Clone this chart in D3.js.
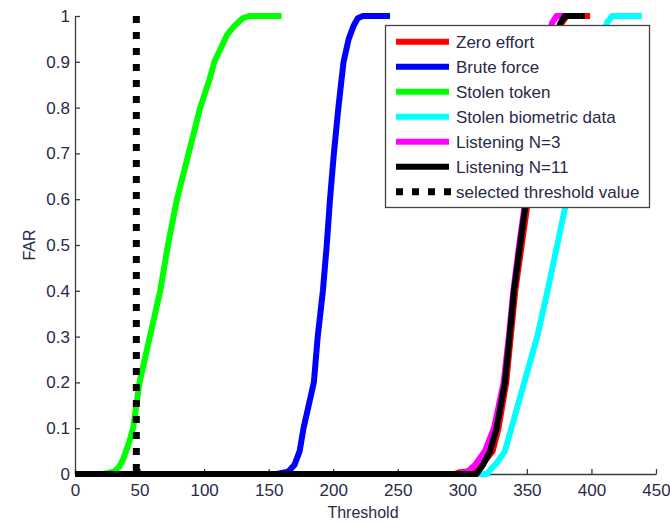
<!DOCTYPE html>
<html>
<head>
<meta charset="utf-8">
<script src="https://cdn.jsdelivr.net/npm/d3@7"></script>
<style>
  html, body { margin: 0; padding: 0; background: #fff; }
  svg { display: block; font-family: Arial, "Liberation Sans", sans-serif; }
</style>
</head>
<body>
<svg id="chart" width="670" height="523"></svg>
<script>
// ---------- data ----------
const seriesNames = ["Zero effort", "Brute force", "Stolen token", "Stolen biometric data", "Listening N=3", "Listening N=11"];
const seriesColors = ["#ff0000", "#0000ff", "#00ff00", "#00ffff", "#ff00ff", "#000000"];

const zeroEffortT   = [0, 294, 298, 305, 312, 318, 323.5, 328, 334, 337.5, 341, 346, 351, 357, 363, 369, 374, 377, 381, 399];
const zeroEffortFAR = [0, 0, 0.004, 0.006, 0.01, 0.03, 0.05, 0.1, 0.2, 0.3, 0.4, 0.5, 0.6, 0.7, 0.8, 0.9, 0.96, 0.985, 1, 1];

const bruteForceT   = [0, 156, 165, 170, 174, 177, 181, 185, 188, 192, 195, 197.5, 200.5, 204, 206, 208, 212, 216, 219, 223, 244];
const bruteForceFAR = [0, 0, 0.005, 0.02, 0.05, 0.1, 0.15, 0.2, 0.3, 0.4, 0.5, 0.6, 0.7, 0.8, 0.85, 0.9, 0.95, 0.98, 0.995, 1, 1];

const stolenTokenT   = [0, 22, 30, 34, 37, 42, 45, 50, 58, 66, 72, 79, 88, 97, 104, 108, 113, 118, 124, 130, 135, 160];
const stolenTokenFAR = [0, 0, 0.005, 0.015, 0.03, 0.07, 0.1, 0.2, 0.3, 0.4, 0.5, 0.6, 0.7, 0.8, 0.86, 0.9, 0.93, 0.96, 0.98, 0.995, 1, 1];

const stolenBioT   = [0, 319, 322, 327, 333, 338, 348, 358, 366, 373.5, 381, 389, 396, 403, 409, 412, 416, 439];
const stolenBioFAR = [0, 0, 0.01, 0.025, 0.05, 0.1, 0.2, 0.3, 0.4, 0.5, 0.6, 0.7, 0.8, 0.9, 0.96, 0.985, 1, 1];

const listen3T   = [0, 296, 304, 310, 317.5, 324.5, 332, 336, 339.5, 344, 349, 353, 358, 364, 367.5, 369.5, 373, 390];
const listen3FAR = [0, 0, 0.005, 0.02, 0.05, 0.1, 0.2, 0.3, 0.4, 0.5, 0.6, 0.7, 0.8, 0.9, 0.96, 0.985, 1, 1];

const listen11T   = [0, 311, 316, 321.5, 326.5, 333, 336.6, 340, 344.7, 349.5, 356, 362, 368, 373, 376, 379.5, 395];
const listen11FAR = [0, 0, 0.02, 0.05, 0.1, 0.2, 0.3, 0.4, 0.5, 0.6, 0.7, 0.8, 0.9, 0.96, 0.985, 1, 1];

const selectedThreshold = 47.5;
const thresholdLabel = "selected threshold value";

const xTickValues = [0, 50, 100, 150, 200, 250, 300, 350, 400, 450];
const yTickValues = [0, 0.1, 0.2, 0.3, 0.4, 0.5, 0.6, 0.7, 0.8, 0.9, 1];
const yTickLabels = ["0", "0.1", "0.2", "0.3", "0.4", "0.5", "0.6", "0.7", "0.8", "0.9", "1"];
const xTitle = "Threshold";
const yTitle = "FAR";

// ---------- build ----------
const seriesT = [zeroEffortT, bruteForceT, stolenTokenT, stolenBioT, listen3T, listen11T];
const seriesF = [zeroEffortFAR, bruteForceFAR, stolenTokenFAR, stolenBioFAR, listen3FAR, listen11FAR];
const series = seriesNames.map((name, i) => ({
  name, color: seriesColors[i],
  points: seriesT[i].map((t, j) => ({ t, f: seriesF[i][j] }))
}));

const svg = d3.select("#chart");
const x = d3.scaleLinear().domain([0, 450]).range([75, 656]);
const y = d3.scaleLinear().domain([0, 1]).range([474, 16]);

const textColor = "#2a2a48";
const axisColor = "#3c3c3c";

// axes
const xAxis = d3.axisBottom(x).tickValues(xTickValues).tickFormat(d3.format("d"))
  .tickSizeInner(-5).tickSizeOuter(0).tickPadding(10);
const yAxis = d3.axisLeft(y).tickValues(yTickValues).tickFormat((d, i) => yTickLabels[i])
  .tickSizeInner(-5).tickSizeOuter(0).tickPadding(5);

const gx = svg.append("g").attr("transform", `translate(0,${y(0)})`).call(xAxis);
const gy = svg.append("g").attr("transform", `translate(${x(0)},0)`).call(yAxis);
[gx, gy].forEach(g => {
  g.select(".domain").attr("stroke", axisColor).attr("stroke-width", 1.3);
  g.selectAll(".tick line").attr("stroke", axisColor).attr("stroke-width", 1.3);
  g.selectAll(".tick text").attr("fill", textColor).attr("font-size", 17)
    .attr("font-family", "Arial, 'Liberation Sans', sans-serif");
});

// titles
svg.append("text").attr("x", 363).attr("y", 518).attr("text-anchor", "middle")
  .attr("font-size", 16).attr("fill", textColor).text(xTitle);
svg.append("text").attr("transform", `translate(35,245) rotate(-90)`).attr("text-anchor", "middle")
  .attr("font-size", 16).attr("fill", textColor).text(yTitle);

// curves
const line = d3.line().x(d => x(d.t)).y(d => y(d.f));
svg.append("g").selectAll("path").data(series).join("path")
  .attr("d", d => line(d.points))
  .attr("fill", "none")
  .attr("stroke", d => d.color)
  .attr("stroke-width", 6)
  .attr("stroke-linejoin", "round")
  .attr("stroke-linecap", "butt");

// selected threshold dotted line
svg.append("path")
  .attr("d", line([{ t: selectedThreshold, f: 1 }, { t: selectedThreshold, f: 0 }]))
  .attr("fill", "none").attr("stroke", "#000").attr("stroke-width", 7)
  .attr("stroke-dasharray", "7,9");

// legend
const lg = svg.append("g");
lg.append("rect").attr("x", 385.5).attr("y", 25.5).attr("width", 264).attr("height", 182)
  .attr("fill", "#fff").attr("stroke", "#444").attr("stroke-width", 1.3);
const rowY = i => 41.7 + 25 * i;
series.forEach((s, i) => {
  lg.append("line").attr("x1", 396).attr("x2", 449).attr("y1", rowY(i)).attr("y2", rowY(i))
    .attr("stroke", s.color).attr("stroke-width", 6);
  lg.append("text").attr("x", 456).attr("y", rowY(i)).attr("dy", "0.36em")
    .attr("font-size", 17).attr("fill", textColor).text(s.name);
});
const ti = series.length;
lg.append("line").attr("x1", 396).attr("x2", 452).attr("y1", rowY(ti)).attr("y2", rowY(ti))
  .attr("stroke", "#000").attr("stroke-width", 7).attr("stroke-dasharray", "7,9");
lg.append("text").attr("x", 456).attr("y", rowY(ti)).attr("dy", "0.36em")
  .attr("font-size", 17).attr("fill", textColor).text(thresholdLabel);
</script>
</body>
</html>
